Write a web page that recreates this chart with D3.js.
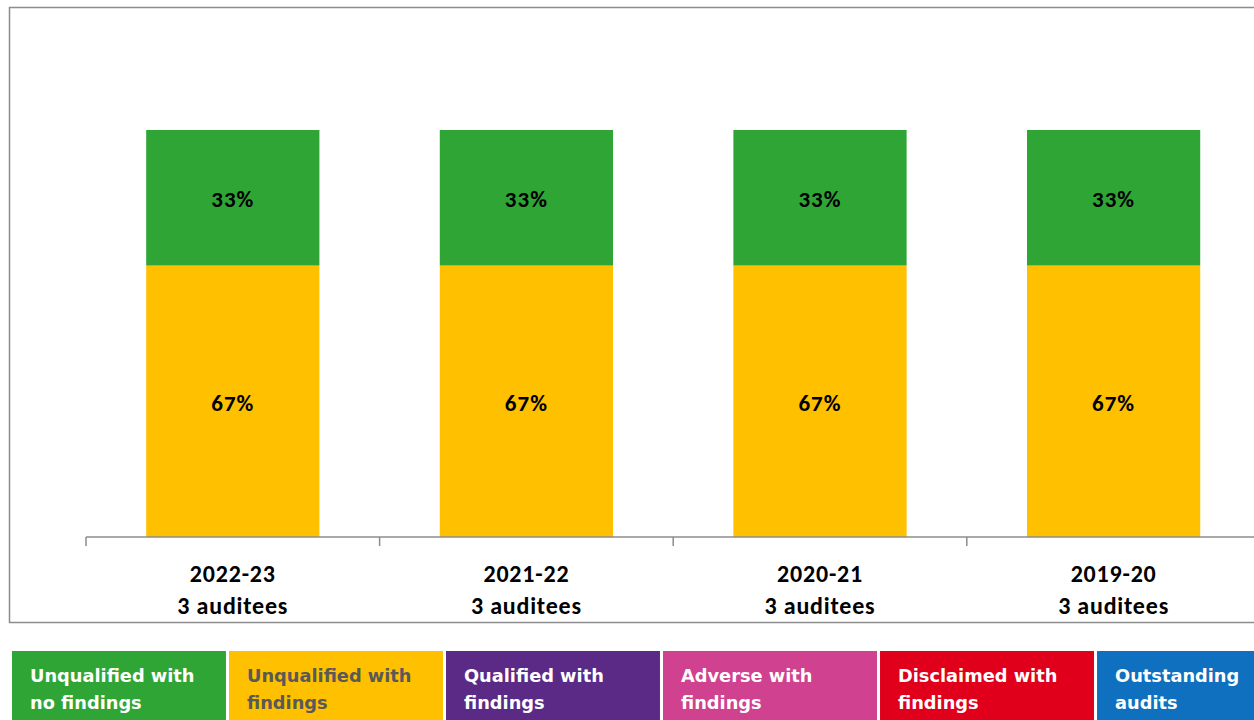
<!DOCTYPE html>
<html>
<head>
<meta charset="utf-8">
<script src="https://cdn.jsdelivr.net/npm/d3@7"></script>
<style>
  html, body { margin: 0; padding: 0; background: #fff; }
  svg { display: block; }
</style>
</head>
<body>
<svg id="chart" width="1254" height="720"></svg>
<script>
// ---- data ----
const years = ["2022-23", "2021-22", "2020-21", "2019-20"];
const auditees = ["3 auditees", "3 auditees", "3 auditees", "3 auditees"];
const unqualifiedWithFindings = [66.7, 66.7, 66.7, 66.7];
const unqualifiedNoFindings = [33.3, 33.3, 33.3, 33.3];
const legendLabels = [
  ["Unqualified with", "no findings"],
  ["Unqualified with", "findings"],
  ["Qualified with", "findings"],
  ["Adverse with", "findings"],
  ["Disclaimed with", "findings"],
  ["Outstanding", "audits"]
];
const legendColors = ["#2ea535", "#ffc000", "#5b2a86", "#d0418f", "#e0001b", "#0e70be"];
const legendTextColors = ["#ffffff", "#595959", "#ffffff", "#ffffff", "#ffffff", "#ffffff"];

const svg = d3.select("#chart");

// frame
svg.append("rect")
  .attr("x", 9.5).attr("y", 7.5).attr("width", 1260).attr("height", 615)
  .attr("fill", "none").attr("stroke", "#8c8c8c").attr("stroke-width", 1.5);

const x = d3.scaleBand().domain(years).range([86, 86 + 4 * 293.6])
  .paddingInner(0.41).paddingOuter(0.205);
const y = d3.scaleLinear().domain([0, 100]).range([537, 130]);

const stackData = years.map((yr, i) => ({
  year: yr,
  wf: unqualifiedWithFindings[i],
  nf: unqualifiedNoFindings[i]
}));
const series = d3.stack().keys(["wf", "nf"])(stackData);
const colors = { wf: "#ffc000", nf: "#2ea535" };

const g = svg.append("g");
series.forEach(s => {
  g.selectAll(null).data(s).join("rect")
    .attr("x", d => x(d.data.year))
    .attr("width", x.bandwidth())
    .attr("y", d => y(d[1]))
    .attr("height", d => y(d[0]) - y(d[1]))
    .attr("fill", colors[s.key]);
  g.selectAll(null).data(s).join("text")
    .attr("x", d => x(d.data.year) + x.bandwidth() / 2)
    .attr("y", d => (y(d[0]) + y(d[1])) / 2 + 1)
    .attr("dy", "0.36em")
    .attr("text-anchor", "middle")
    .attr("font-family", "Carlito, Lato, 'Open Sans', sans-serif")
    .attr("font-weight", "bold")
    .attr("font-size", 23)
    .attr("letter-spacing", 1)
    .attr("fill", "#000")
    .text(d => Math.round(d[1] - d[0]) + "%");
});

// axis
const axis = d3.axisBottom(x).tickSize(0).tickFormat("");
const ax = svg.append("g").attr("transform", "translate(0,537)").call(axis);
ax.select(".domain").attr("stroke", "#8c8c8c").attr("stroke-width", 1.5)
  .attr("d", "M86,0H1260");
// boundary ticks
const step = x.step();
const bounds = years.map(yr => x(yr) - step * 0.205).concat([x(years[years.length - 1]) - step * 0.205 + step]);
ax.selectAll(".bt").data(bounds).join("line")
  .attr("class", "bt")
  .attr("x1", d => d).attr("x2", d => d)
  .attr("y1", 0).attr("y2", 9)
  .attr("stroke", "#8c8c8c").attr("stroke-width", 1.5);

// category labels
const lab = svg.append("g");
years.forEach((yr, i) => {
  const cx = x(yr) + x.bandwidth() / 2;
  const t = lab.append("text")
    .attr("x", cx).attr("text-anchor", "middle")
    .attr("font-family", "Carlito, Lato, 'Open Sans', sans-serif")
    .attr("font-weight", "bold").attr("font-size", 24)
    .attr("letter-spacing", 0.8).attr("fill", "#000");
  t.append("tspan").attr("x", cx).attr("y", 582).text(yr);
  t.append("tspan").attr("x", cx).attr("y", 614).text(auditees[i]);
});

// legend
const lx = d3.scaleBand().domain(d3.range(legendLabels.length)).range([12, 12 + 6 * 217 - 3]).paddingInner(0.014);
const lg = svg.append("g");
legendLabels.forEach((lines, i) => {
  lg.append("rect")
    .attr("x", lx(i)).attr("y", 651).attr("width", lx.bandwidth()).attr("height", 70)
    .attr("fill", legendColors[i]);
  const t = lg.append("text")
    .attr("font-family", "'URW Gothic', 'DejaVu Sans', sans-serif")
    .attr("font-weight", "bold").attr("font-size", 17.8)
    .attr("fill", legendTextColors[i]);
  lines.forEach((ln, j) => {
    t.append("tspan").attr("x", lx(i) + 18).attr("y", 682 + j * 27).text(ln);
  });
});
</script>
</body>
</html>
